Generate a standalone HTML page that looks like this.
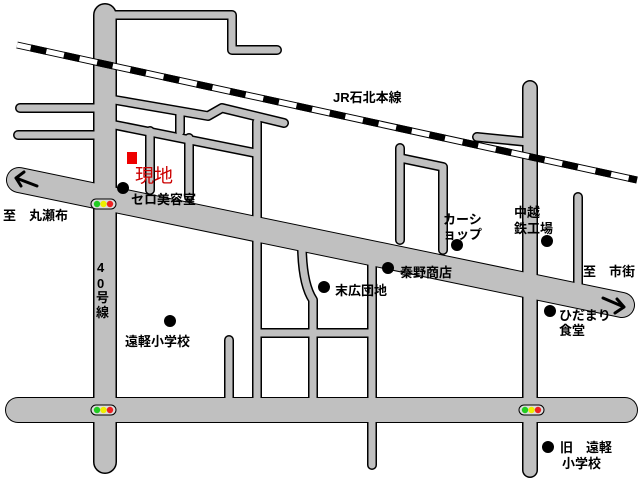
<!DOCTYPE html>
<html><head><meta charset="utf-8"><style>
html,body{margin:0;padding:0;background:#fff;width:640px;height:480px;overflow:hidden}
svg{display:block}
text{font-family:"Liberation Sans","Noto Sans CJK JP",sans-serif;font-weight:bold;fill:#000}
</style></head><body>
<svg width="640" height="480" viewBox="0 0 640 480" xmlns="http://www.w3.org/2000/svg">
<g fill="none" stroke="#000" stroke-linecap="round" stroke-linejoin="round">
  <path d="M105,15 V462" stroke-width="24"/>
  <path d="M105,15 H232 V50 H277" stroke-width="10"/>
  <path d="M20,108 H100 M18,135 H100" stroke-width="10"/>
  <path d="M115,100 L208,116 L222,108 L284,123" stroke-width="10"/>
  <path d="M115,125 L255,153" stroke-width="10"/>
  <path d="M180,113 V132 M150,131 V190 M189,138 V197 M257,122 V400" stroke-width="10"/>
  <path d="M19,180 L622,305" stroke-width="26"/>
  <path d="M18,410 H625" stroke-width="26"/>
  <path d="M530,88 V470" stroke-width="16"/>
  <path d="M477,137 L528,142" stroke-width="10"/>
  <path d="M400,148 V240 M400,158 L443,167 V250" stroke-width="10"/>
  <path d="M578,197 V290" stroke-width="10"/>
  <path d="M302,250 Q303,285 313,300 V400 M257,333 H372" stroke-width="10"/>
  <path d="M372,262 V465" stroke-width="10"/>
  <path d="M229,340 V400" stroke-width="10"/>
</g>
<g fill="none" stroke="#c0c0c0" stroke-linecap="round" stroke-linejoin="round">
  <path d="M105,15 V462" stroke-width="21"/>
  <path d="M105,15 H232 V50 H277" stroke-width="7"/>
  <path d="M20,108 H100 M18,135 H100" stroke-width="7"/>
  <path d="M115,100 L208,116 L222,108 L284,123" stroke-width="7"/>
  <path d="M115,125 L255,153" stroke-width="7"/>
  <path d="M180,113 V132 M150,131 V190 M189,138 V197 M257,122 V400" stroke-width="7"/>
  <path d="M19,180 L622,305" stroke-width="24"/>
  <path d="M18,410 H625" stroke-width="24"/>
  <path d="M530,88 V470" stroke-width="13"/>
  <path d="M477,137 L528,142" stroke-width="7"/>
  <path d="M400,148 V240 M400,158 L443,167 V250" stroke-width="7"/>
  <path d="M578,197 V290" stroke-width="7"/>
  <path d="M302,250 Q303,285 313,300 V400 M257,333 H372" stroke-width="7"/>
  <path d="M372,262 V465" stroke-width="7"/>
  <path d="M229,340 V400" stroke-width="7"/>
</g>
<line x1="17" y1="45" x2="637" y2="180" stroke="#000" stroke-width="7"/>
<line x1="17" y1="45" x2="637" y2="180" stroke="#fff" stroke-width="5"/>
<line x1="17" y1="45" x2="637" y2="180" stroke="#000" stroke-width="7" stroke-dasharray="16,18" stroke-dashoffset="-14"/>
<g stroke="#000" stroke-width="3" fill="none" stroke-linecap="round">
  <path d="M37,186 L16,178 M16,178 L24,172 M16,178 L21,186"/>
  <path d="M603,298 L624,307 M624,307 L617,299 M624,307 L615,313"/>
</g>
<g>
  <rect x="91" y="199" width="25" height="10" rx="5" fill="#ddd" stroke="#000"/>
  <circle cx="97" cy="204" r="3.2" fill="#2c2"/><circle cx="103.5" cy="204" r="3.2" fill="#ee0"/><circle cx="110" cy="204" r="3.2" fill="#e22"/>
  <rect x="91" y="405" width="25" height="10" rx="5" fill="#ddd" stroke="#000"/>
  <circle cx="97" cy="410" r="3.2" fill="#2c2"/><circle cx="103.5" cy="410" r="3.2" fill="#ee0"/><circle cx="110" cy="410" r="3.2" fill="#e22"/>
  <rect x="519" y="405" width="25" height="10" rx="5" fill="#ddd" stroke="#000"/>
  <circle cx="525" cy="410" r="3.2" fill="#2c2"/><circle cx="531.5" cy="410" r="3.2" fill="#ee0"/><circle cx="538" cy="410" r="3.2" fill="#e22"/>
</g>
<rect x="127" y="152" width="10" height="12" fill="#e00"/>
<text x="135" y="182" font-size="19" style="fill:#c00;font-weight:normal">現地</text>
<g fill="#000">
  <circle cx="123" cy="188" r="6"/><circle cx="170" cy="321" r="6"/><circle cx="324" cy="287" r="6"/>
  <circle cx="388" cy="268" r="6"/><circle cx="457" cy="245" r="6"/><circle cx="547" cy="241" r="6"/>
  <circle cx="550" cy="311" r="6"/><circle cx="548" cy="447" r="6"/>
</g>
<g font-size="13">
  <text x="333" y="102">JR石北本線</text>
  <text x="3" y="220">至　丸瀬布</text>
  <text x="131" y="204">セロ美容室</text>
  <text x="97" y="272">4</text><text x="97" y="288">0</text><text x="96" y="302">号</text><text x="96" y="317">線</text>
  <text x="125" y="346">遠軽小学校</text>
  <text x="335" y="295">末広団地</text>
  <text x="400" y="277">秦野商店</text>
  <text x="443" y="224">カーシ</text>
  <text x="443" y="239">ョップ</text>
  <text x="514" y="217">中越</text>
  <text x="514" y="233">鉄工場</text>
  <text x="583" y="276">至　市街</text>
  <text x="559" y="320">ひだまり</text>
  <text x="559" y="335">食堂</text>
  <text x="560" y="452">旧　遠軽</text>
  <text x="562" y="468">小学校</text>
</g>
</svg>
</body></html>
